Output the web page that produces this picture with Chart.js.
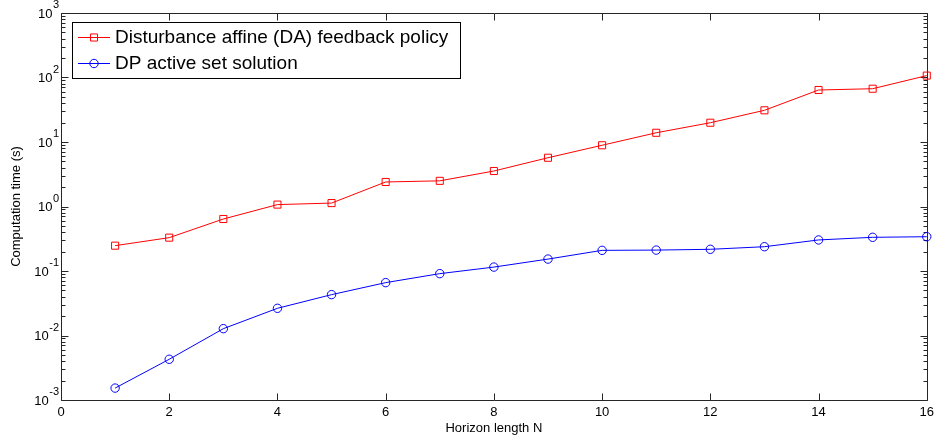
<!DOCTYPE html>
<html><head><meta charset="utf-8">
<script src="https://cdn.jsdelivr.net/npm/chart.js@4.4.0/dist/chart.umd.min.js"></script>
<style>html,body{margin:0;padding:0;background:#fff}#wrap{width:939px;height:440px}</style>
</head><body><div id="wrap"><canvas id="c" width="939" height="440"></canvas></div>
<script>
const horizons = [1,2,3,4,5,6,7,8,9,10,11,12,13,14,15,16];
const daTimes = [0.247,0.329,0.64,1.07,1.13,2.4,2.5,3.55,5.7,8.9,13.9,19.9,31,64,67,107];
const dpTimes = [0.00153,0.00428,0.01276,0.0264,0.043,0.066,0.091,0.115,0.153,0.209,0.211,0.217,0.238,0.303,0.333,0.340];
const xTicks = [0,2,4,6,8,10,12,14,16];
const yExponents = [-3,-2,-1,0,1,2,3];
const seriesLabels = ['Disturbance affine (DA) feedback policy','DP active set solution'];
const xTitle = 'Horizon length N';
const yTitle = 'Computation time (s)';

const FONT = "'Liberation Sans', Arial, Helvetica, sans-serif";
const AX = '#262626';

const frame = {
  id: 'frame',
  beforeDatasetsDraw(chart) {
    const {ctx, chartArea: a, scales: {x, y}} = chart;
    ctx.save();
    ctx.strokeStyle = AX; ctx.lineWidth = 1;
    const L = Math.round(a.left) + 0.5, R = Math.round(a.right) + 0.5;
    const T = Math.round(a.top) + 0.5, B = Math.round(a.bottom) + 0.5;
    ctx.beginPath();
    ctx.rect(L, T, R - L, B - T);
    x.ticks.forEach(t => {
      const px = Math.round(x.getPixelForValue(t.value)) + 0.5;
      ctx.moveTo(px, B); ctx.lineTo(px, B - 7);
      ctx.moveTo(px, T); ctx.lineTo(px, T + 7);
    });
    for (let i = 0; i < yExponents.length; i++) {
      const e = yExponents[i];
      for (let m = 1; m <= 9; m++) {
        if (i === yExponents.length - 1 && m > 1) break;
        const v = m * Math.pow(10, e);
        const len = m === 1 ? 7 : 4;
        const py = Math.round(y.getPixelForValue(v)) + 0.5;
        ctx.moveTo(L, py); ctx.lineTo(L + len, py);
        ctx.moveTo(R, py); ctx.lineTo(R - len, py);
      }
    }
    ctx.stroke();
    ctx.fillStyle = '#000';
    ctx.textBaseline = 'alphabetic';
    ctx.textAlign = 'left';
    yExponents.forEach(e => {
      const py = y.getPixelForValue(Math.pow(10, e));
      const base = '10', ex = String(e);
      ctx.font = '13px ' + FONT;
      const bw = ctx.measureText(base).width;
      ctx.font = '11px ' + FONT;
      const ew = ctx.measureText(ex).width;
      const right = L - 3;
      const x0 = right - bw - ew;
      ctx.font = '13px ' + FONT;
      ctx.fillText(base, x0, py + 4.7);
      ctx.font = '11px ' + FONT;
      ctx.fillText(ex, x0 + bw + 0.5, py - 4.8);
    });
    ctx.restore();
  },
  afterDraw(chart) {
    const {ctx} = chart;
    ctx.save();
    ctx.strokeStyle = '#000'; ctx.lineWidth = 1;
    ctx.fillStyle = '#fff';
    ctx.fillRect(72.5, 22.5, 388, 56);
    ctx.strokeRect(72.5, 22.5, 388, 56);
    const rows = [37.5, 63.5];
    chart.data.datasets.forEach((ds, i) => {
      const yy = rows[i];
      ctx.strokeStyle = ds.borderColor; ctx.lineWidth = 1;
      ctx.beginPath(); ctx.moveTo(78, yy); ctx.lineTo(110, yy); ctx.stroke();
      ctx.fillStyle = 'rgba(0,0,0,0)';
      Chart.helpers.drawPoint(ctx, {pointStyle: ds.pointStyle, radius: ds.pointRadius, borderWidth: 1}, 94, yy);
      ctx.fillStyle = '#000';
      ctx.font = '19px ' + FONT;
      ctx.textBaseline = 'middle';
      ctx.textAlign = 'left';
      ctx.fillText(ds.label, 115, yy);
    });
    ctx.restore();
  }
};

new Chart(document.getElementById('c'), {
  type: 'line',
  data: {
    datasets: [
      {label: seriesLabels[0], data: horizons.map((n, i) => ({x: n, y: daTimes[i]})),
       borderColor: '#ff0000', backgroundColor: 'rgba(0,0,0,0)', borderWidth: 1,
       pointStyle: 'rect', pointRadius: 5, pointBorderWidth: 1, pointBorderColor: '#ff0000', pointBackgroundColor: 'rgba(0,0,0,0)', clip: false, tension: 0},
      {label: seriesLabels[1], data: horizons.map((n, i) => ({x: n, y: dpTimes[i]})),
       borderColor: '#0000ff', backgroundColor: 'rgba(0,0,0,0)', borderWidth: 1,
       pointStyle: 'circle', pointRadius: 4.2, pointBorderWidth: 1, pointBorderColor: '#0000ff', pointBackgroundColor: 'rgba(0,0,0,0)', clip: false, tension: 0}
    ]
  },
  options: {
    responsive: false, animation: false, devicePixelRatio: 1,
    layout: {padding: {left: 0, right: 10, top: 13, bottom: 0}},
    plugins: {legend: {display: false}, tooltip: {enabled: false}},
    scales: {
      x: {
        type: 'linear', min: 0, max: 16,
        afterBuildTicks: s => { s.ticks = xTicks.map(v => ({value: v})); },
        afterFit: s => { s.height = 40; },
        grid: {display: false, drawTicks: false},
        border: {display: false},
        ticks: {color: '#000', font: {family: FONT, size: 13}, padding: 5, maxRotation: 0, autoSkip: false},
        title: {display: true, text: xTitle, color: '#000', font: {family: FONT, size: 13}, padding: {top: 0, bottom: 4}}
      },
      y: {
        type: 'logarithmic', min: 1e-3, max: 1e3,
        afterBuildTicks: s => { s.ticks = yExponents.map(e => ({value: Math.pow(10, e), major: true})); },
        afterFit: s => { s.width = 61; },
        grid: {display: false, drawTicks: false},
        border: {display: false},
        ticks: {display: false},
        title: {display: true, text: yTitle, color: '#000', font: {family: FONT, size: 13}, padding: {top: 9, bottom: 0}}
      }
    }
  },
  plugins: [frame]
});
</script></body></html>
